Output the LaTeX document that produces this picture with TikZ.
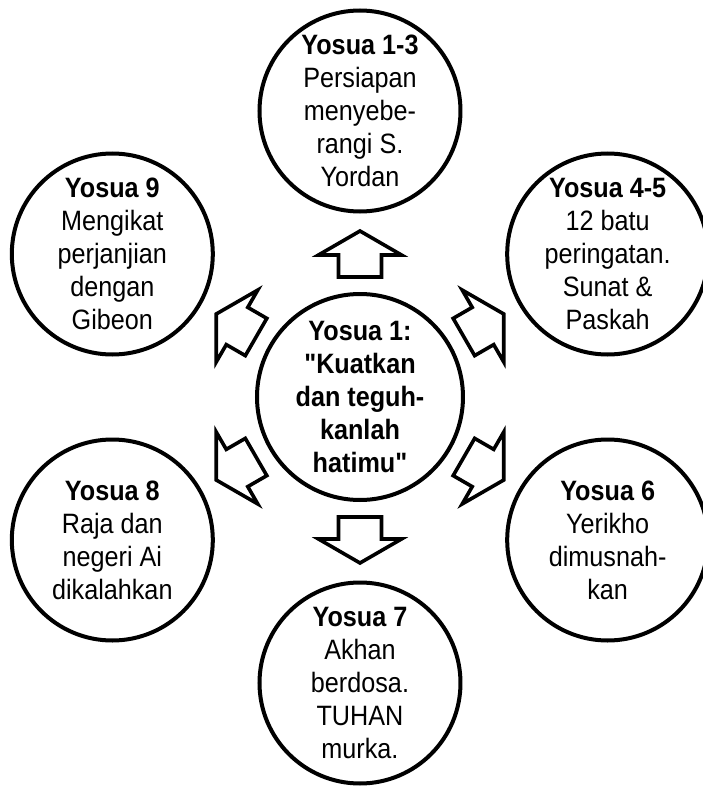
\documentclass[tikz,border=0pt]{standalone}
\usepackage{fontspec}
\setmainfont[FakeStretch=0.9,Ligatures=TeXOff]{Liberation Sans}
\usetikzlibrary{calc}

\begin{document}
\begin{tikzpicture}[x=1pt,y=1pt,
    bubble/.style={circle,draw,line width=4pt,minimum size=201pt,inner sep=0pt},
    bubbletext/.style={align=center,font=\fontsize{28}{33}\selectfont},
    blockarr/.pic={
      \draw[line width=3.6pt] (-23,-21.5) -- (-1,-21.5) -- (-1,-41.5) -- (23,0)
        -- (-1,41.5) -- (-1,21.5) -- (-23,21.5) -- cycle;
    }]
    \useasboundingbox (-360,-391) rectangle (343,397);

    % Center circle
    \node[bubble,minimum size=206pt] (hub) at (0,0) {};
    \node[bubbletext,font=\fontsize{28}{33}\selectfont\bfseries] (hubtxt) at (hub)
        {Yosua 1:\\"Kuatkan\\dan teguh-\\kanlah\\hatimu"};

    % Outer circles
    \node[bubble] (jos13) at (90:286) {};
    \node[bubble] (jos45) at (30:286) {};
    \node[bubble] (jos6) at (-30:286) {};
    \node[bubble] (jos7) at (-90:286) {};
    \node[bubble] (jos8) at (210:286) {};
    \node[bubble] (jos9) at (150:286) {};

    \node[bubbletext] (txt13) at (jos13) {\textbf{Yosua 1-3}\\Persiapan\\menyebe-\\rangi S.\\Yordan};
    \node[bubbletext] (txt45) at (jos45) {\textbf{Yosua 4-5}\\12 batu\\peringatan.\\Sunat \&\\Paskah};
    \node[bubbletext] (txt6) at (jos6) {\textbf{Yosua 6}\\Yerikho\\dimusnah-\\kan};
    \node[bubbletext] (txt7) at (jos7) {\textbf{Yosua 7}\\Akhan\\berdosa.\\TUHAN\\murka.};
    \node[bubbletext] (txt8) at (jos8) {\textbf{Yosua 8}\\Raja dan\\negeri Ai\\dikalahkan};
    \node[bubbletext] (txt9) at (jos9) {\textbf{Yosua 9}\\Mengikat\\perjanjian\\dengan\\Gibeon};

    % Block arrows pointing outward
    \foreach \n/\a in {jos13/90,jos45/30,jos6/-30,jos7/-90,jos8/210,jos9/150}
        \pic[rotate=\a] at ($(hub)!0.5!(\n)$) {blockarr};

\end{tikzpicture}
\end{document}
